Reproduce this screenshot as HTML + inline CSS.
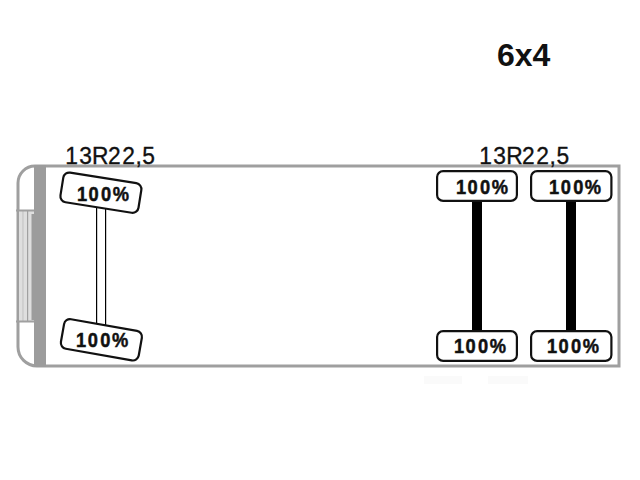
<!DOCTYPE html>
<html>
<head>
<meta charset="utf-8">
<style>
html,body{margin:0;padding:0;background:#fff;}
body{width:640px;height:480px;overflow:hidden;}
svg{display:block;}
text{font-family:"Liberation Sans",sans-serif;}
</style>
</head>
<body>
<svg width="640" height="480" viewBox="0 0 640 480">
  <defs>
    <pattern id="stripes" x="20" y="0" width="12" height="3" patternUnits="userSpaceOnUse">
      <rect x="0" y="0" width="12" height="3" fill="#dedede"/>
      <rect x="2.3" y="0" width="1.3" height="3" fill="#c8c8c8"/>
      <rect x="7" y="0" width="1.2" height="3" fill="#a0a0a0"/>
    </pattern>
  </defs>

  <!-- truck body outline -->
  <path d="M37 166 H619 V366 H37 A19 19 0 0 1 18 347 V183 A17 17 0 0 1 35 166 Z" fill="#fff" stroke="#9f9f9f" stroke-width="3"/>

  <!-- striped middle panel -->
  <rect x="19" y="211" width="15" height="111" fill="url(#stripes)"/>
  <rect x="16" y="209.5" width="18" height="2" fill="#a0a0a0"/>
  <rect x="16" y="320.5" width="18" height="2" fill="#a0a0a0"/>
  <rect x="31.5" y="214" width="3" height="106" fill="#9c9c9c"/>
  <!-- dark vertical bar -->
  <rect x="34" y="165" width="12" height="202" fill="#9c9c9c"/>

  <!-- faint ghost artifacts -->
  <rect x="424" y="376" width="38" height="8" fill="#fafafa"/>
  <rect x="488" y="376" width="40" height="8" fill="#fafafa"/>

  <!-- labels -->
  <text x="497" y="66.3" font-size="32" font-weight="bold" fill="#111">6x4</text>

  <!-- left axle (thin double line) -->
  <rect x="96" y="200" width="1.2" height="125" fill="#000"/>
  <rect x="105" y="200" width="1.2" height="125" fill="#000"/>

  <!-- left tires (rotated) -->
  <g transform="rotate(9 100.9 192.7)">
    <rect x="61.4" y="177.7" width="79" height="30" rx="6" ry="6" fill="#fff" stroke="#111" stroke-width="2.2"/>
  </g>

  <g transform="rotate(10 101.4 339.8)">
    <rect x="61.9" y="324.8" width="79" height="30" rx="6" ry="6" fill="#fff" stroke="#111" stroke-width="2.2"/>
  </g>

  <!-- right axles (thick bars) -->
  <rect x="472" y="200" width="10" height="132" fill="#000"/>
  <rect x="566" y="200" width="10" height="132" fill="#000"/>

  <!-- right tires -->
  <rect x="437.1" y="171.1" width="79.8" height="29.8" rx="6" ry="6" fill="#fff" stroke="#111" stroke-width="2.2"/>
  <rect x="531.1" y="171.1" width="80.3" height="29.8" rx="6" ry="6" fill="#fff" stroke="#111" stroke-width="2.2"/>

  <rect x="437.1" y="331.1" width="79.8" height="29.8" rx="6" ry="6" fill="#fff" stroke="#111" stroke-width="2.2"/>
  <rect x="531.1" y="331.1" width="80.3" height="29.8" rx="6" ry="6" fill="#fff" stroke="#111" stroke-width="2.2"/>
  <!-- generated text -->
  <text transform="translate(77.80 200.60) scale(0.870 1)" x="-1.04 12.45 26.82 40.16" y="0" font-size="21" font-weight="bold" fill="#111" stroke="#111" stroke-width="0.5">100%</text>
  <text transform="translate(77.00 346.80) scale(0.870 1)" x="-1.04 12.45 26.82 40.16" y="0" font-size="21" font-weight="bold" fill="#111" stroke="#111" stroke-width="0.5">100%</text>
  <text transform="translate(456.80 193.70) scale(0.870 1)" x="-1.04 12.45 26.82 40.16" y="0" font-size="21" font-weight="bold" fill="#111" stroke="#111" stroke-width="0.5">100%</text>
  <text transform="translate(549.90 193.75) scale(0.870 1)" x="-1.04 12.45 26.82 40.16" y="0" font-size="21" font-weight="bold" fill="#111" stroke="#111" stroke-width="0.5">100%</text>
  <text transform="translate(454.80 352.80) scale(0.870 1)" x="-1.04 12.45 26.82 40.16" y="0" font-size="21" font-weight="bold" fill="#111" stroke="#111" stroke-width="0.5">100%</text>
  <text transform="translate(547.80 352.75) scale(0.870 1)" x="-1.04 12.45 26.82 40.16" y="0" font-size="21" font-weight="bold" fill="#111" stroke="#111" stroke-width="0.5">100%</text>
  <text transform="translate(66.90 163.60) scale(0.950 1)" x="-1.74 12.98 26.49 43.25 58.22 72.24 79.45" y="0" font-size="24" fill="#111" stroke="#111" stroke-width="0.35">13R22,5</text>
  <text transform="translate(481.00 163.60) scale(0.950 1)" x="-1.74 12.98 26.49 43.25 58.22 72.24 79.45" y="0" font-size="24" fill="#111" stroke="#111" stroke-width="0.35">13R22,5</text>
</svg>
</body>
</html>
